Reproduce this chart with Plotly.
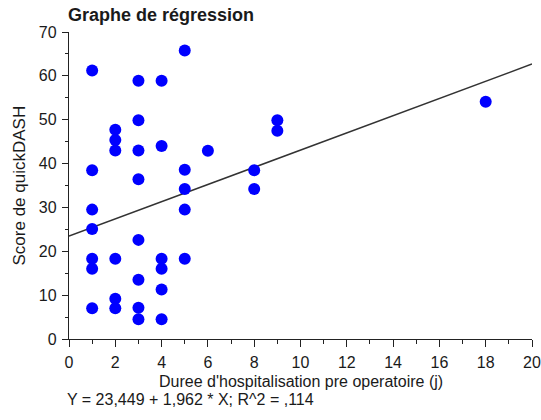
import plotly.graph_objects as go

# Data
duree = [1, 1, 1, 1, 1, 1, 1,
         2, 2, 2, 2, 2, 2,
         3, 3, 3, 3, 3, 3, 3, 3,
         4, 4, 4, 4, 4, 4,
         5, 5, 5, 5, 5,
         6,
         8, 8,
         9, 9,
         18]
score = [61.2, 38.5, 29.5, 25.1, 18.3, 16.0, 7.0,
         47.7, 45.4, 43.0, 18.3, 9.2, 7.0,
         58.9, 49.9, 43.0, 36.4, 22.6, 13.5, 7.1, 4.5,
         58.9, 44.0, 18.3, 16.0, 11.3, 4.5,
         65.8, 38.6, 34.2, 29.5, 18.3,
         42.9,
         38.5, 34.2,
         49.9, 47.5,
         54.1]

intercept = 23.449
slope = 1.962
r2 = 0.114
line_x = [0, 20]
line_y = [intercept + slope * v for v in line_x]

x_ticks = [0, 2, 4, 6, 8, 10, 12, 14, 16, 18, 20]
y_ticks = [0, 10, 20, 30, 40, 50, 60, 70]

title_text = "Graphe de régression"
x_title = "Duree d'hospitalisation pre operatoire (j)"
y_title = "Score de quickDASH"

FONT = "Liberation Sans, Arial, sans-serif"
TXT = "#1a1a1a"
AX = "#222222"

fig = go.Figure()
fig.add_trace(go.Scatter(x=line_x, y=line_y, mode="lines",
                         line=dict(color="#333333", width=1.5),
                         hoverinfo="skip", showlegend=False))
fig.add_trace(go.Scatter(x=duree, y=score, mode="markers",
                         marker=dict(color="#0000ff", size=12, line=dict(width=0)),
                         showlegend=False))

fig.update_layout(
    width=541, height=420,
    margin=dict(l=69, r=9, t=32, b=81),
    paper_bgcolor="white", plot_bgcolor="white",
    font=dict(family=FONT, size=16, color=TXT),
    xaxis=dict(range=[0, 20], tickvals=x_ticks, ticktext=[str(v) for v in x_ticks],
               automargin=False,
               showgrid=False, zeroline=False, showline=True, linecolor=AX,
               linewidth=1.3, ticks="outside", ticklen=7, tickwidth=1.3, tickcolor=AX,
               minor=dict(dtick=1, ticks="outside", ticklen=4, tickwidth=1.3, tickcolor=AX),
               tickfont=dict(size=16, color=TXT), ticklabelstandoff=2,
               ticklabeloverflow="allow"),
    yaxis=dict(range=[0, 70], tickvals=y_ticks, ticktext=[str(v) for v in y_ticks],
               automargin=False,
               showgrid=False, zeroline=False, showline=True, linecolor=AX,
               linewidth=1.3, ticks="outside", ticklen=6, tickwidth=1.3, tickcolor=AX,
               minor=dict(dtick=5, ticks="outside", ticklen=3, tickwidth=1.3, tickcolor=AX),
               tickfont=dict(size=16, color=TXT), ticklabelstandoff=2),
)

# Title
fig.add_annotation(text="<b>" + title_text + "</b>", xref="paper", yref="paper",
                   x=0, y=1, xanchor="left", yanchor="middle", yshift=17, xshift=-3,
                   showarrow=False, font=dict(family=FONT, size=18, color=TXT))
# X axis title
fig.add_annotation(text=x_title, xref="paper", yref="paper", x=0.5, y=0,
                   xanchor="center", yanchor="middle", yshift=-42, borderpad=0,
                   showarrow=False, font=dict(family=FONT, size=16, color=TXT))
# Y axis title
fig.add_annotation(text=y_title, xref="paper", yref="paper", x=0, y=0.5,
                   xanchor="center", yanchor="middle", xshift=-50, textangle=-90,
                   showarrow=False, font=dict(family=FONT, size=17, color=TXT))
# Equation
eq = "Y = {:.3f} + {:.3f} * X; R^2 = ,{}".format(intercept, slope, str(r2).split(".")[1])
eq = eq.replace(".", ",")
fig.add_annotation(text=eq, xref="paper", yref="paper", x=0, y=0, xanchor="left",
                   yanchor="middle", yshift=-60, xshift=-3, borderpad=0, showarrow=False,
                   font=dict(family=FONT, size=16, color=TXT))

# Remove the default page margin so the figure fills the window exactly.
fig.write_html("out.html",
               config={"displayModeBar": False},
               post_script="document.body.style.margin='0';document.body.style.overflow='hidden';")
